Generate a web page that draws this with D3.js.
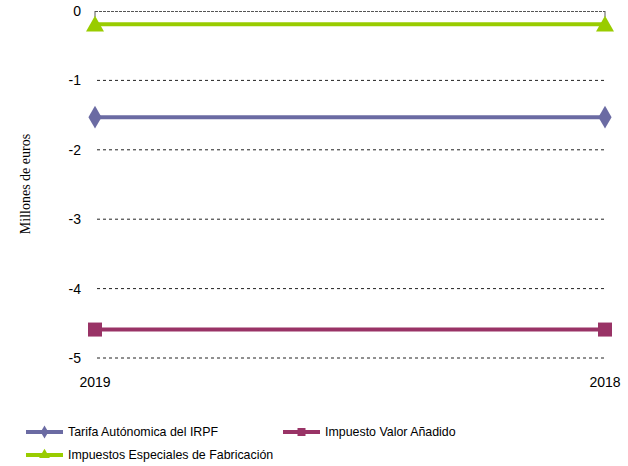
<!DOCTYPE html>
<html><head><meta charset="utf-8">
<script src="https://cdn.jsdelivr.net/npm/d3@7"></script>
<style>body{margin:0;background:#fff}svg{display:block}</style>
</head><body><svg id="c" width="628" height="466"></svg>
<script>
const categories = ["2019", "2018"];
const yTicks = [0, -1, -2, -3, -4, -5];
const seriesNames = ["Tarifa Autónomica del IRPF", "Impuesto Valor Añadido", "Impuestos Especiales de Fabricación"];
const irpf = [-1.53, -1.53];
const iva = [-4.59, -4.59];
const iief = [-0.19, -0.19];
const colors = ["#6B6BA3", "#993366", "#99CC00"];
const symbols = [d3.symbolDiamond, d3.symbolSquare, d3.symbolTriangle];

const svg = d3.select("#c");
const x = d3.scalePoint().domain(categories).range([95, 605]);
const y = d3.scaleLinear().domain([-5, 0]).range([358, 11]);

// gridlines
svg.append("g").selectAll("line").data(yTicks.filter(t => t !== 0)).join("line")
  .attr("x1", 97).attr("x2", 605).attr("y1", d => y(d)).attr("y2", d => y(d))
  .attr("stroke", "#222").attr("stroke-width", 1).attr("stroke-dasharray", "3,3");
// top axis line (zero)
svg.append("line").attr("x1", 95).attr("x2", 605).attr("y1", y(0)+0.5).attr("y2", y(0)+0.5)
  .attr("stroke", "#555").attr("stroke-width", 1).attr("stroke-dasharray", "3,1");
svg.append("g").selectAll("line").data(categories).join("line")
  .attr("x1", d => x(d)).attr("x2", d => x(d)).attr("y1", y(0)).attr("y2", y(0) + 6)
  .attr("stroke", "#555");

// y tick labels
svg.append("g").selectAll("text").data(yTicks).join("text")
  .attr("x", 81).attr("y", d => y(d)).attr("dy", "0.35em")
  .attr("text-anchor", "end").attr("font-family", "Liberation Sans, Arial, sans-serif")
  .attr("font-size", 14).attr("fill", "#000").text(d => d === 0 ? "0" : "-" + Math.abs(d));

// x labels
svg.append("g").selectAll("text").data(categories).join("text")
  .attr("x", d => x(d)).attr("y", 387)
  .attr("text-anchor", "middle").attr("font-family", "Liberation Sans, Arial, sans-serif")
  .attr("font-size", 14).attr("fill", "#000").text(d => d);

// y axis title
svg.append("text").attr("transform", "translate(30,184) rotate(-90)")
  .attr("text-anchor", "middle").attr("font-family", "Liberation Serif, Times New Roman, serif")
  .attr("font-size", 14).attr("fill", "#000").text("Millones de euros");

const allSeries = [irpf, iva, iief];
const line = d3.line().x((d, i) => x(categories[i])).y(d => y(d));
allSeries.forEach((s, k) => {
  svg.append("path").attr("d", line(s)).attr("fill", "none")
    .attr("stroke", colors[k]).attr("stroke-width", 4);
  svg.append("g").selectAll("path").data(s).join("path")
    .attr("transform", (d, i) => `translate(${x(categories[i])},${y(d) + (k === 2 ? 2 : 0)})`)
    .attr("d", d3.symbol().type(symbols[k]).size(k === 1 ? 196 : (k === 0 ? 150 : 140)))
    .attr("fill", colors[k]);
});

// legend
const legendPos = [[26, 432], [283, 432], [26, 455]];
seriesNames.forEach((n, k) => {
  const [lx, ly] = legendPos[k];
  const g = svg.append("g");
  g.append("line").attr("x1", lx).attr("x2", lx + 37).attr("y1", ly).attr("y2", ly)
    .attr("stroke", colors[k]).attr("stroke-width", 4);
  g.append("path").attr("transform", `translate(${lx + 18.5},${ly})`)
    .attr("d", d3.symbol().type(symbols[k]).size(k === 1 ? 64 : 50)).attr("fill", colors[k]);
  g.append("text").attr("x", lx + 42).attr("y", ly).attr("dy", "0.35em")
    .attr("font-family", "Liberation Sans, Arial, sans-serif").attr("font-size", 12.4)
    .attr("fill", "#000").text(n);
});
</script></body></html>
